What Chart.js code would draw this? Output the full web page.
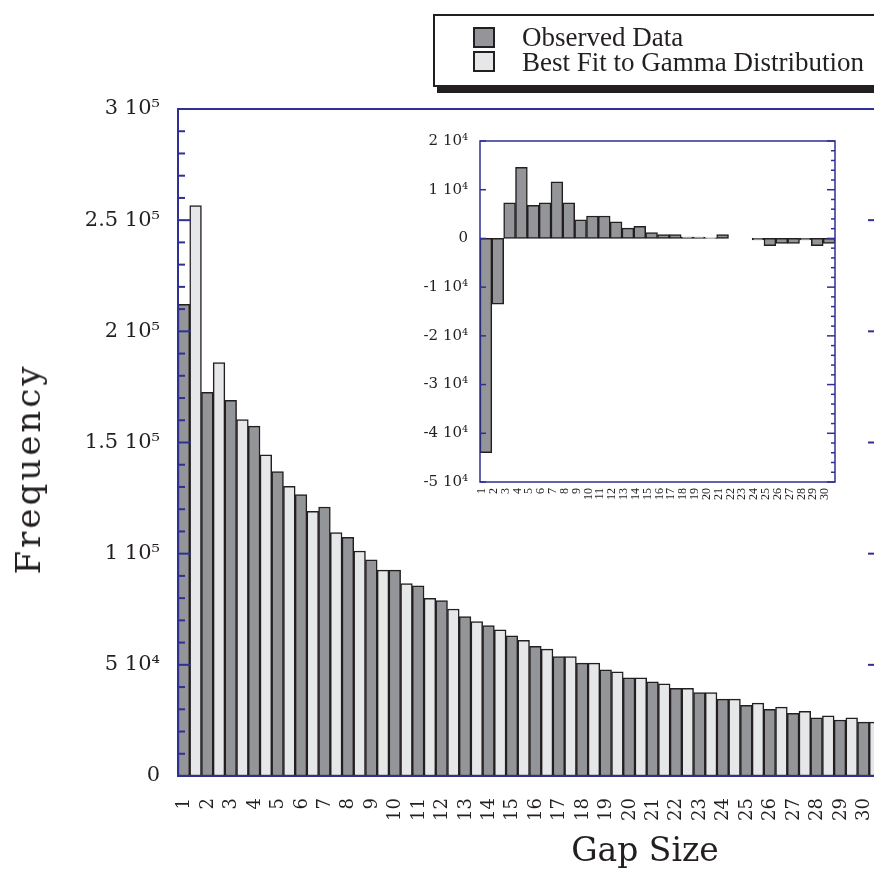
<!DOCTYPE html>
<html>
<head>
<meta charset="utf-8">
<script src="https://cdn.jsdelivr.net/npm/chart.js@4.4.1/dist/chart.umd.min.js"></script>
<style>
  html, body { margin: 0; padding: 0; background: #fff; overflow: hidden; }
  #page { position: relative; width: 874px; height: 891px; overflow: hidden; }
  #mainBox { position: absolute; left: 0; top: 0; width: 900px; height: 891px; }
  #insetBox { position: absolute; left: 400px; top: 125px; width: 450px; height: 390px; }
  .title { position: absolute; font-family: "DejaVu Serif", serif; color: #231f20; white-space: nowrap; }
  #ytitle { left: 28px; top: 469px; font-size: 34px; letter-spacing: 3px; transform: translate(-50%, -50%) rotate(-90deg); }
  #xtitle { left: 645px; top: 849px; font-size: 33px; transform: translate(-50%, -50%); }
  #legend { position: absolute; left: 433px; top: 14px; width: 470px; height: 73px; box-sizing: border-box;
            border: 2px solid #231f20; background: #fff; box-shadow: 4px 6px 0 #231f20; }
  .swatch { position: absolute; left: 473px; width: 22px; height: 21px; box-sizing: border-box; border: 2px solid #231f20; }
  .ltext { position: absolute; left: 522px; font-family: "Liberation Serif", serif; font-size: 27px; line-height: 25px; color: #231f20; white-space: nowrap; }
</style>
</head>
<body>
<div id="page">
  <div id="mainBox"><canvas id="main" width="900" height="891" style="width:900px;height:891px"></canvas></div>
  <div id="insetBox"><canvas id="inset" width="450" height="390" style="width:450px;height:390px"></canvas></div>
  <div id="legend"></div>
  <div class="swatch" style="top:27px;background:#939598"></div>
  <div class="swatch" style="top:51px;background:#e6e7e8"></div>
  <div class="ltext" style="top:25px">Observed Data</div>
  <div class="ltext" style="top:50px">Best Fit to Gamma Distribution</div>
  <div id="ytitle" class="title">Frequency</div>
  <div id="xtitle" class="title">Gap Size</div>
</div>
<script>
const gapSizes = ['1','2','3','4','5','6','7','8','9','10','11','12','13','14','15','16','17','18','19','20','21','22','23','24','25','26','27','28','29','30']

const observed = [212100, 172600, 169000, 157400, 136900, 126600, 121000, 107400, 97200, 92600,
                  85500, 78900, 71700, 67600, 63100, 58300, 53700, 50800, 47800, 44100,
                  42400, 39400, 37500, 34600, 31800, 30000, 28200, 26200, 25200, 24200]
const gammaFit = [256600, 185900, 160300, 144500, 130300, 119000, 109500, 101200, 92600, 86600,
                  79900, 75100, 69400, 65700, 61000, 57100, 53700, 50800, 46800, 44100,
                  41400, 39400, 37500, 34600, 32800, 31000, 29100, 27100, 26200, 24200]
// observed minus fit, shown in the inset
const residual = [-44000, -13500, 7300, 14600, 6800, 7300, 11600, 7300, 3800, 4600,
                  4600, 3400, 2100, 2500, 1200, 800, 800, 300, 300, 100,
                  800, 0, 0, -300, -1500, -1000, -1000, -300, -1500, -1000]

const mainTickLabels = ['0', '5 10⁴', '1 10⁵', '1.5 10⁵', '2 10⁵', '2.5 10⁵', '3 10⁵']
const insetTickLabels = ['-5 10⁴', '-4 10⁴', '-3 10⁴', '-2 10⁴', '-1 10⁴', '0', '1 10⁴', '2 10⁴']

const AXIS = '#2e3192'
const INK = '#231f20'
const DARK = '#939598'
const LIGHT = '#e6e7e8'

Chart.defaults.animation = false
Chart.defaults.font.family = '"DejaVu Serif", serif'
Chart.defaults.color = INK

// frame + ticks pointing into the plot, like the original plotting package
const innerTicks = {
  id: 'innerTicks',
  afterDatasetsDraw(chart, args, opts) {
    const { ctx, chartArea: a } = chart
    const y = chart.scales.y
    ctx.save()
    ctx.strokeStyle = opts.color
    ctx.lineWidth = opts.width
    const line = (x1, y1, x2, y2) => { ctx.beginPath(); ctx.moveTo(x1, y1); ctx.lineTo(x2, y2); ctx.stroke() }
    for (let v = y.min; v <= y.max + 1; v += opts.minor) {
      const py = y.getPixelForValue(v)
      const major = Math.abs(v / opts.major - Math.round(v / opts.major)) < 1e-6
      const l = major ? opts.left[0] : opts.left[1]
      const r = major ? opts.right[0] : opts.right[1]
      if (l) line(a.left, py, a.left + l, py)
      if (r) line(a.right - r, py, a.right, py)
    }
    ctx.strokeRect(a.left, a.top, a.right - a.left, a.bottom - a.top)
    ctx.restore()
  }
}

const barStyle = { borderColor: INK, borderWidth: 1.5, borderSkipped: false, barPercentage: 1, categoryPercentage: 1 }

// keep the plot box where it is, whatever the rotated labels want
const fitX = h => s => { s.height = h; s.paddingLeft = 0; s.paddingRight = 0 }
const fitY = w => s => { s.width = w; s.paddingTop = 0; s.paddingBottom = 0 }

new Chart(document.getElementById('main'), {
  type: 'bar',
  data: {
    labels: gapSizes,
    datasets: [
      { ...barStyle, label: 'Observed Data', data: observed, backgroundColor: DARK },
      { ...barStyle, label: 'Best Fit to Gamma Distribution', data: gammaFit, backgroundColor: LIGHT },
    ],
  },
  options: {
    responsive: false,
    devicePixelRatio: 1,
    layout: { padding: { top: 109, right: 19, left: 0, bottom: 0 } },
    plugins: {
      legend: { display: false },
      tooltip: { enabled: false },
      innerTicks: { color: AXIS, width: 2, minor: 10000, major: 50000, left: [13, 7], right: [13, 7] },
    },
    scales: {
      x: {
        grid: { display: false, drawTicks: false },
        border: { display: false },
        ticks: { minRotation: 90, maxRotation: 90, padding: 22, labelOffset: -5, font: { size: 18 }, autoSkip: false },
        afterFit: fitX(115),
      },
      y: {
        min: 0,
        max: 300000,
        grid: { display: false, drawTicks: false },
        border: { display: false },
        ticks: { stepSize: 50000, padding: 18, font: { size: 21 }, callback: (v, i) => mainTickLabels[i] },
        afterFit: fitY(178),
      },
    },
  },
  plugins: [innerTicks],
})

new Chart(document.getElementById('inset'), {
  type: 'bar',
  data: {
    labels: gapSizes,
    datasets: [
      { ...barStyle, label: 'Observed - Fit', data: residual, backgroundColor: DARK },
    ],
  },
  options: {
    responsive: false,
    devicePixelRatio: 1,
    layout: { padding: { top: 16, right: 15, left: 0, bottom: 0 } },
    plugins: {
      legend: { display: false },
      tooltip: { enabled: false },
      innerTicks: { color: AXIS, width: 1.5, minor: 2000, major: 10000, left: [6, 0], right: [8, 4] },
    },
    scales: {
      x: {
        grid: { display: false, drawTicks: false },
        border: { display: false },
        ticks: { minRotation: 90, maxRotation: 90, padding: 6, labelOffset: -4, autoSkip: false,
                 font: { family: '"Liberation Serif", serif', size: 12 } },
        afterFit: fitX(33),
      },
      y: {
        min: -50000,
        max: 20000,
        grid: { display: false, drawTicks: false },
        border: { display: false },
        ticks: { stepSize: 10000, padding: 12, font: { size: 15 }, callback: (v, i) => insetTickLabels[i] },
        afterFit: fitY(80),
      },
    },
  },
  plugins: [innerTicks],
})
</script>
</body>
</html>
